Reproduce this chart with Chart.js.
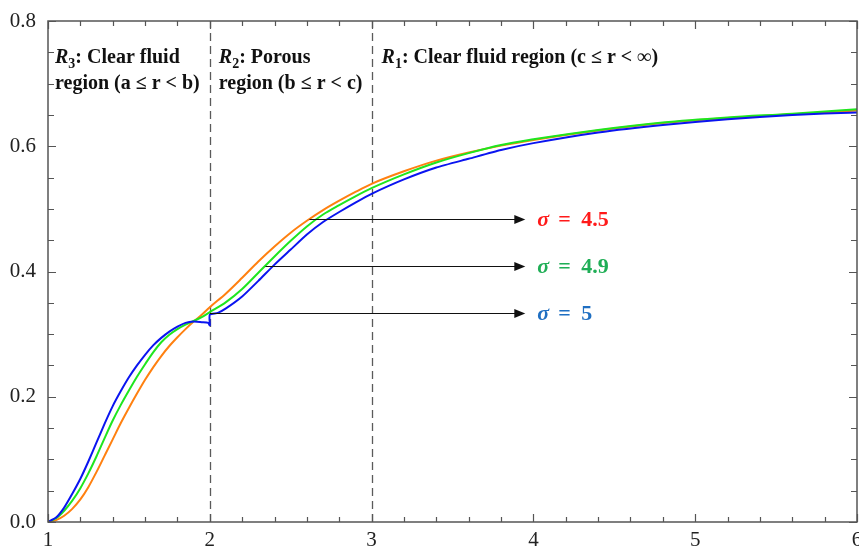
<!DOCTYPE html>
<html>
<head>
<meta charset="utf-8">
<script src="https://cdn.jsdelivr.net/npm/chart.js@4.4.1/dist/chart.umd.min.js"></script>
<style>
  body { margin: 0; background: #fff; }
  #wrap { width: 859px; height: 553px; }
</style>
</head>
<body>
<div id="wrap"><canvas id="velocityChart" width="859" height="553"></canvas></div>
<script>
// r values (blue has the jump at r = 2, so it keeps its own grid)
const rBlue = [1.0, 1.05, 1.1, 1.15, 1.2, 1.25, 1.3, 1.35, 1.4, 1.45, 1.5, 1.55, 1.6, 1.65, 1.7, 1.75, 1.8, 1.85, 1.9, 1.95, 1.99, 2.0, 2.0, 2.05, 2.1, 2.2, 2.3, 2.4, 2.5, 2.6, 2.7, 2.8, 2.9, 3.0, 3.2, 3.4, 3.6, 3.8, 4.0, 4.4, 4.8, 5.2, 5.6, 6.0];
const vBlue = [0, 0.007, 0.023, 0.045, 0.069, 0.097, 0.127, 0.157, 0.185, 0.209, 0.231, 0.25, 0.267, 0.282, 0.294, 0.304, 0.312, 0.318, 0.32, 0.319, 0.318, 0.314, 0.331, 0.334, 0.341, 0.36, 0.385, 0.411, 0.435, 0.459, 0.479, 0.495, 0.51, 0.524, 0.547, 0.566, 0.58, 0.594, 0.605, 0.622, 0.634, 0.643, 0.65, 0.654];

const rGrid = [1.0, 1.05, 1.1, 1.15, 1.2, 1.25, 1.3, 1.35, 1.4, 1.45, 1.5, 1.55, 1.6, 1.65, 1.7, 1.75, 1.8, 1.85, 1.9, 1.95, 2.0, 2.1, 2.2, 2.3, 2.4, 2.5, 2.6, 2.7, 2.8, 2.9, 3.0, 3.2, 3.4, 3.6, 3.8, 4.0, 4.4, 4.8, 5.2, 5.6, 6.0];
const vGreen = [0, 0.006, 0.018, 0.034, 0.054, 0.078, 0.105, 0.134, 0.162, 0.187, 0.21, 0.232, 0.252, 0.271, 0.287, 0.299, 0.308, 0.315, 0.321, 0.327, 0.335, 0.351, 0.372, 0.398, 0.424, 0.449, 0.472, 0.491, 0.506, 0.52, 0.533, 0.555, 0.574, 0.589, 0.602, 0.611, 0.626, 0.638, 0.646, 0.652, 0.659];
const vOrange = [0, 0.003, 0.01, 0.021, 0.036, 0.056, 0.08, 0.106, 0.132, 0.158, 0.182, 0.205, 0.227, 0.247, 0.265, 0.281, 0.295, 0.308, 0.32, 0.331, 0.343, 0.365, 0.39, 0.416, 0.44, 0.462, 0.481, 0.498, 0.513, 0.527, 0.54, 0.56, 0.577, 0.59, 0.601, 0.61, 0.625, 0.637, 0.645, 0.651, 0.657];

const xTicks = [1, 2, 3, 4, 5, 6];
const yTicks = [0, 0.2, 0.4, 0.6, 0.8];
const regionBounds = [2, 3];

// arrow annotations: label, level (y), start r, colour
const sigmaValues = ['4.5', '4.9', '5'];
const sigmaLevels = [0.484, 0.409, 0.333];
const sigmaFrom = [2.616, 2.344, 2.0];
const sigmaTo = 3.95;
const sigmaColors = ['#ff1a1a', '#1fae56', '#1f6fc2'];

const SERIF = '"Liberation Serif", "Times New Roman", serif';

const toPoints = (xs, ys) => xs.map((x, i) => ({ x: x, y: ys[i] }));

function drawRich(ctx, parts, x, y) {
  parts.forEach(p => {
    const size = p.sub ? 14 : 20;
    ctx.font = (p.italic ? 'italic ' : '') + 'bold ' + size + 'px ' + SERIF;
    ctx.fillText(p.t, x, p.sub ? y + 5 : y);
    x += ctx.measureText(p.t).width;
  });
}

const decorations = {
  id: 'decorations',
  beforeDatasetsDraw(chart) {
    const { ctx, chartArea: a, scales: { x } } = chart;
    ctx.save();
    ctx.strokeStyle = '#5a5a5a';
    ctx.lineWidth = 1.3;
    ctx.setLineDash([8, 5]);
    regionBounds.forEach(b => {
      const px = Math.round(x.getPixelForValue(b)) + 0.5;
      ctx.beginPath();
      ctx.moveTo(px, a.bottom);
      ctx.lineTo(px, a.top);
      ctx.stroke();
    });
    ctx.restore();
  },
  afterDatasetsDraw(chart) {
    const { ctx, chartArea: a, scales: { x, y } } = chart;
    ctx.save();

    // frame
    ctx.strokeStyle = '#555';
    ctx.lineWidth = 1.5;
    ctx.strokeRect(a.left, a.top, a.right - a.left, a.bottom - a.top);

    // inward ticks
    ctx.lineWidth = 1.2;
    ctx.beginPath();
    for (let i = 0; i <= 25; i++) {
      const v = 1 + i * 0.2;
      const px = Math.round(x.getPixelForValue(v)) + 0.5;
      const len = i % 5 === 0 ? 8 : 5;
      ctx.moveTo(px, a.bottom); ctx.lineTo(px, a.bottom - len);
      ctx.moveTo(px, a.top); ctx.lineTo(px, a.top + len);
    }
    for (let i = 0; i <= 16; i++) {
      const v = i * 0.05;
      const py = Math.round(y.getPixelForValue(v)) + 0.5;
      const len = i % 4 === 0 ? 8 : 6;
      ctx.moveTo(a.left, py); ctx.lineTo(a.left + len, py);
      ctx.moveTo(a.right, py); ctx.lineTo(a.right - len, py);
    }
    ctx.stroke();

    // region labels
    ctx.fillStyle = '#111';
    ctx.textBaseline = 'alphabetic';
    const l1 = a.top + 42, l2 = a.top + 68;
    drawRich(ctx, [{ t: 'R', italic: true }, { t: '3', sub: true }, { t: ': Clear fluid' }], a.left + 7, l1);
    drawRich(ctx, [{ t: 'region (a \u2264 r < b)' }], a.left + 7, l2);
    const x2 = x.getPixelForValue(2), x3 = x.getPixelForValue(3);
    drawRich(ctx, [{ t: 'R', italic: true }, { t: '2', sub: true }, { t: ': Porous' }], x2 + 9, l1);
    drawRich(ctx, [{ t: 'region (b \u2264 r < c)' }], x2 + 9, l2);
    drawRich(ctx, [{ t: 'R', italic: true }, { t: '1', sub: true }, { t: ': Clear fluid region (c \u2264 r < \u221e)' }], x3 + 10, l1);

    // arrows + sigma labels
    const tip = x.getPixelForValue(sigmaTo);
    sigmaLevels.forEach((lv, i) => {
      const py = Math.round(y.getPixelForValue(lv)) + 0.5;
      ctx.strokeStyle = '#111';
      ctx.lineWidth = 1;
      ctx.beginPath();
      ctx.moveTo(x.getPixelForValue(sigmaFrom[i]), py);
      ctx.lineTo(tip - 8, py);
      ctx.stroke();
      ctx.fillStyle = '#111';
      ctx.beginPath();
      ctx.moveTo(tip, py);
      ctx.lineTo(tip - 11, py - 4.5);
      ctx.lineTo(tip - 11, py + 4.5);
      ctx.closePath();
      ctx.fill();

      ctx.fillStyle = sigmaColors[i];
      ctx.textBaseline = 'middle';
      ctx.font = 'italic bold 22px ' + SERIF;
      ctx.fillText('\u03c3', tip + 12, py + 1);
      ctx.font = 'bold 22px ' + SERIF;
      ctx.fillText('=', tip + 33, py + 1);
      ctx.fillText(sigmaValues[i], tip + 56, py + 1);
    });

    ctx.restore();
  }
};

const ctx = document.getElementById('velocityChart').getContext('2d');
new Chart(ctx, {
  type: 'line',
  data: {
    datasets: [
      { label: '\u03c3 = 5', data: toPoints(rBlue, vBlue), borderColor: '#0a14f0', order: 1, tension: 0.2 },
      { label: '\u03c3 = 4.9', data: toPoints(rGrid, vGreen), borderColor: '#1ee61e', order: 2, cubicInterpolationMode: 'monotone' },
      { label: '\u03c3 = 4.5', data: toPoints(rGrid, vOrange), borderColor: '#ff8010', order: 3, cubicInterpolationMode: 'monotone' }
    ]
  },
  options: {
    responsive: false,
    devicePixelRatio: 1,
    animation: false,
    parsing: false,
    layout: { padding: { top: 21, right: 2, left: 0, bottom: 0 } },
    elements: {
      point: { radius: 0 },
      line: { borderWidth: 2, tension: 0.25, fill: false }
    },
    plugins: { legend: { display: false }, tooltip: { enabled: false } },
    scales: {
      x: {
        type: 'linear', min: 1, max: 6,
        afterBuildTicks: s => { s.ticks = xTicks.map(v => ({ value: v })); },
        afterFit: s => { s.height = 31; s.paddingLeft = 0; s.paddingRight = 0; },
        ticks: { font: { family: SERIF, size: 21 }, color: '#222', padding: 6, maxRotation: 0 },
        grid: { display: false, drawTicks: false },
        border: { display: false }
      },
      y: {
        type: 'linear', min: 0, max: 0.8,
        afterBuildTicks: s => { s.ticks = yTicks.map(v => ({ value: v })); },
        afterFit: s => { s.width = 48; s.paddingTop = 0; s.paddingBottom = 0; },
        ticks: { font: { family: SERIF, size: 21 }, color: '#222', padding: 12, callback: v => v.toFixed(1) },
        grid: { display: false, drawTicks: false },
        border: { display: false }
      }
    }
  },
  plugins: [decorations]
});
</script>
</body>
</html>
